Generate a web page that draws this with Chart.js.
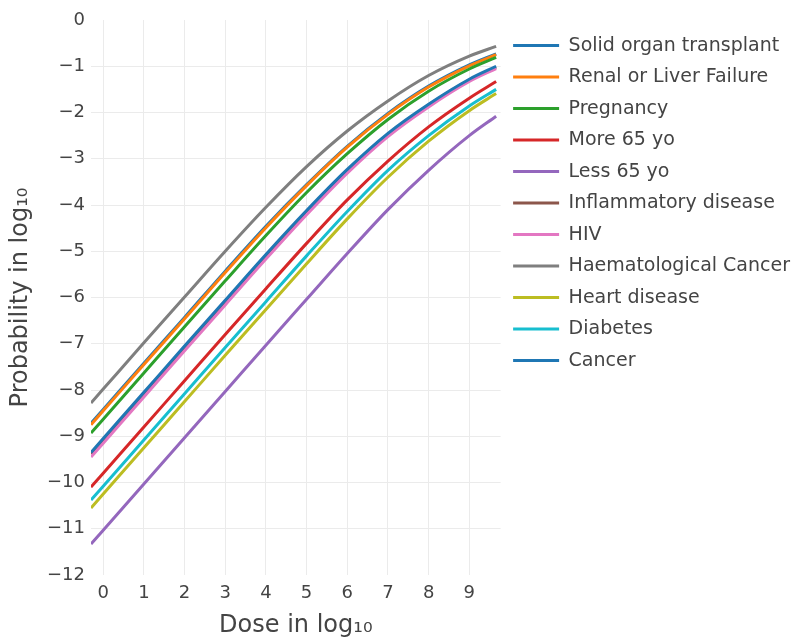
<!DOCTYPE html>
<html>
<head>
<meta charset="utf-8">
<script src="https://cdn.jsdelivr.net/npm/chart.js@4/dist/chart.umd.min.js"></script>
<style>
  html, body { margin: 0; padding: 0; background: #fff; }
  canvas { display: block; }
</style>
</head>
<body>
<canvas id="doseChart" width="800" height="643"></canvas>
<script>
// dose (log10) at which each curve was read
const doses = [-0.3, 0, 1, 2, 3, 4, 5, 6, 7, 8, 9, 9.66];

const groups = ['Solid organ transplant', 'Renal or Liver Failure', 'Pregnancy', 'More 65 yo', 'Less 65 yo',
    'Inflammatory disease', 'HIV', 'Haematological Cancer', 'Heart disease', 'Diabetes', 'Cancer'];

// probability (log10)
const solidOrgan   = [-8.72, -8.42, -7.42, -6.43, -5.43, -4.46, -3.56, -2.73, -2.02, -1.43, -0.97, -0.73];
const renalLiver   = [-8.75, -8.45, -7.45, -6.46, -5.46, -4.49, -3.58, -2.75, -2.04, -1.45, -0.99, -0.75];
const pregnancy    = [-8.93, -8.63, -7.63, -6.63, -5.64, -4.66, -3.73, -2.89, -2.15, -1.54, -1.06, -0.81];
const more65       = [-10.1, -9.8, -8.8, -7.8, -6.8, -5.81, -4.83, -3.89, -3.05, -2.31, -1.69, -1.33];
const less65       = [-11.33, -11.03, -10.03, -9.03, -8.03, -7.03, -6.04, -5.05, -4.1, -3.25, -2.5, -2.08];
const inflammatory = [-9.38, -9.08, -8.08, -7.08, -6.09, -5.1, -4.15, -3.26, -2.48, -1.84, -1.3, -1.02];
const hiv          = [-9.45, -9.15, -8.15, -7.15, -6.16, -5.17, -4.21, -3.31, -2.52, -1.88, -1.33, -1.05];
const haemCancer   = [-8.28, -7.98, -6.98, -5.99, -5.0, -4.05, -3.17, -2.4, -1.75, -1.2, -0.78, -0.57];
const heart        = [-10.55, -10.25, -9.25, -8.25, -7.25, -6.26, -5.27, -4.3, -3.4, -2.62, -1.96, -1.59];
const diabetes     = [-10.38, -10.08, -9.08, -8.08, -7.08, -6.09, -5.1, -4.14, -3.25, -2.5, -1.86, -1.5];
const cancer       = [-9.35, -9.05, -8.05, -7.05, -6.06, -5.07, -4.12, -3.23, -2.45, -1.82, -1.28, -1.0];

const xTicks = [0, 1, 2, 3, 4, 5, 6, 7, 8, 9];
const yTicks = [-12, -11, -10, -9, -8, -7, -6, -5, -4, -3, -2, -1, 0];

const series = [solidOrgan, renalLiver, pregnancy, more65, less65, inflammatory, hiv, haemCancer, heart, diabetes, cancer];
const colors = ['#1f77b4', '#ff7f0e', '#2ca02c', '#d62728', '#9467bd', '#8c564b', '#e377c2', '#7f7f7f', '#bcbd22', '#17becf', '#1f77b4'];

const textColor = '#444';
const gridColor = '#ebebeb';
const fontFamily = '"DejaVu Sans", Verdana, sans-serif';

const datasets = series.map((vals, i) => ({
    label: groups[i],
    data: vals.map((v, j) => ({x: doses[j], y: v})),
    borderColor: colors[i],
    backgroundColor: colors[i],
    borderWidth: 3,
    pointRadius: 0,
    cubicInterpolationMode: 'monotone',
    // later traces sit on top, like the original
    order: series.length - i
}));

new Chart(document.getElementById('doseChart'), {
    type: 'line',
    data: {datasets: datasets},
    options: {
        responsive: false,
        animation: false,
        layout: {padding: {top: 20, left: 0, right: 0, bottom: 0}},
        plugins: {
            tooltip: {enabled: false},
            legend: {
                position: 'right',
                align: 'start',
                maxWidth: 320,
                // empty title, only used to push the items down a little
                title: {display: true, text: '', padding: 0, font: {size: 3}},
                labels: {
                    color: textColor,
                    font: {family: fontFamily, size: 19},
                    usePointStyle: true,
                    pointStyle: 'line',
                    pointStyleWidth: 46,
                    padding: 12.5,
                    sort: (a, b) => a.datasetIndex - b.datasetIndex
                }
            }
        },
        scales: {
            x: {
                type: 'linear',
                min: -0.3,
                max: 9.77,
                afterFit: (s) => { s.height = 68; },
                afterBuildTicks: (s) => { s.ticks = xTicks.map(v => ({value: v})); },
                border: {display: false},
                grid: {color: gridColor, drawTicks: false},
                ticks: {color: textColor, font: {family: fontFamily, size: 18}, padding: 8, maxRotation: 0},
                title: {
                    display: true,
                    text: 'Dose in log\u2081\u2080',
                    color: textColor,
                    font: {family: fontFamily, size: 24},
                    padding: {top: 0, bottom: 3}
                }
            },
            y: {
                min: -12,
                max: 0,
                afterFit: (s) => { s.width = 91; },
                afterBuildTicks: (s) => { s.ticks = yTicks.map(v => ({value: v})); },
                border: {display: false},
                grid: {
                    drawTicks: false,
                    color: (ctx) => (ctx.tick && (ctx.tick.value === 0 || ctx.tick.value === -12)) ? 'rgba(0,0,0,0)' : gridColor
                },
                ticks: {
                    color: textColor,
                    font: {family: fontFamily, size: 18},
                    padding: 6,
                    callback: (v) => v < 0 ? '\u2212' + Math.abs(v) : String(v)
                },
                title: {
                    display: true,
                    text: 'Probability in log\u2081\u2080',
                    color: textColor,
                    font: {family: fontFamily, size: 24},
                    padding: {top: 6, bottom: 0}
                }
            }
        }
    }
});
</script>
</body>
</html>
